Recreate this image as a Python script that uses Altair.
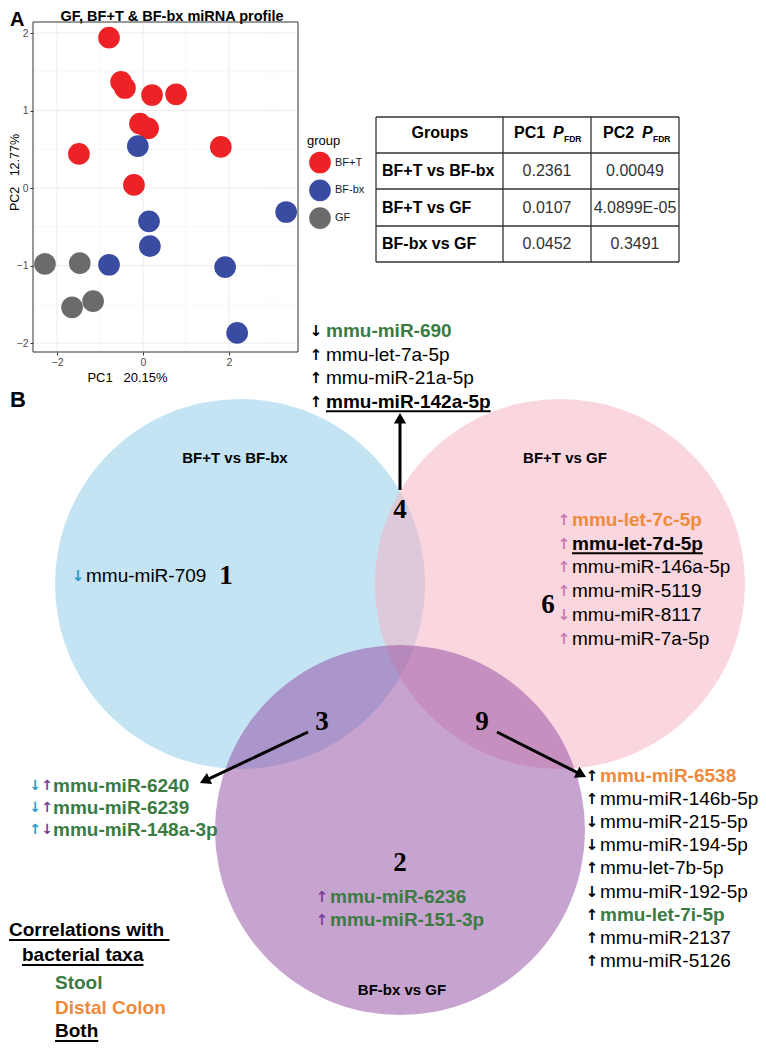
import math
import altair as alt
import pandas as pd

W, H = 750, 1036
PAGE = 8
SANS = "Liberation Sans"
SERIF = "Liberation Serif"
ARROWF = "DejaVu Sans"
NB = "\u00a0"

# ---------------- Panel A : PCA scores ----------------
groups = ["BF+T", "BF-bx", "GF"]
group_colors = ["#EC2227", "#3A4CA1", "#6B6B6B"]
bft_pc1 = [-0.79, -0.51, -0.42, 0.21, 0.77, -0.07, 0.12, -1.49, 1.81, -0.21]
bft_pc2 = [1.94, 1.37, 1.29, 1.20, 1.21, 0.83, 0.77, 0.44, 0.53, 0.04]
bfbx_pc1 = [-0.12, 0.14, 0.16, -0.79, 1.91, 3.33, 2.19]
bfbx_pc2 = [0.54, -0.43, -0.75, -0.99, -1.02, -0.31, -1.87]
gf_pc1 = [-2.28, -1.47, -1.65, -1.16]
gf_pc2 = [-0.98, -0.97, -1.54, -1.46]
pc1_ticks = [-2, 0, 2]
pc2_ticks = [-2, -1, 0, 1, 2]
pc1_title = "PC1" + NB * 3 + "20.15%"
pc2_title = "PC2" + NB * 3 + "12.77%"
panel_a_title = "GF, BF+T & BF-bx miRNA profile"

# ---------------- Panel A : table ----------------
table_groups = ["BF+T vs BF-bx", "BF+T vs GF", "BF-bx vs GF"]
table_pc1 = ["0.2361", "0.0107", "0.0452"]
table_pc2 = ["0.00049", "4.0899E-05", "0.3491"]

# ---------------- Panel B : Venn ----------------
venn_sets = ["BF+T vs BF-bx", "BF+T vs GF", "BF-bx vs GF"]
# fill colours drawn at 50 % opacity (blue, pink, purple)
venn_fills = ["#89C9E9", "#F5ADBD", "#8F479F"]
region_labels = ["1", "4", "6", "3", "9", "2"]

r1_dir = ["↓"]
r1_mir = ["mmu-miR-709"]
r1_corr = ["none"]

r4_dir = ["↓", "↑", "↑", "↑"]
r4_mir = ["mmu-miR-690", "mmu-let-7a-5p", "mmu-miR-21a-5p", "mmu-miR-142a-5p"]
r4_corr = ["stool", "none", "none", "both"]

r6_dir = ["↑", "↑", "↑", "↑", "↓", "↑"]
r6_mir = ["mmu-let-7c-5p", "mmu-let-7d-5p", "mmu-miR-146a-5p", "mmu-miR-5119",
          "mmu-miR-8117", "mmu-miR-7a-5p"]
r6_corr = ["colon", "both", "none", "none", "none", "none"]

r3_dir = ["↓↑", "↓↑", "↑↓"]
r3_mir = ["mmu-miR-6240", "mmu-miR-6239", "mmu-miR-148a-3p"]
r3_corr = ["stool", "stool", "stool"]

r9_dir = ["↑", "↑", "↓", "↓", "↑", "↓", "↑", "↑", "↑"]
r9_mir = ["mmu-miR-6538", "mmu-miR-146b-5p", "mmu-miR-215-5p", "mmu-miR-194-5p",
          "mmu-let-7b-5p", "mmu-miR-192-5p", "mmu-let-7i-5p", "mmu-miR-2137", "mmu-miR-5126"]
r9_corr = ["colon", "none", "none", "none", "none", "none", "stool", "none", "none"]

r2_dir = ["↑", "↑"]
r2_mir = ["mmu-miR-6236", "mmu-miR-151-3p"]
r2_corr = ["stool", "stool"]

key_title = ["Correlations with ", "bacterial taxa"]
key_items = ["Stool", "Distal Colon", "Both"]
key_corr = ["stool", "colon", "both"]

# ---------------- styles ----------------
GREEN = "#3A7B43"
ORANGE = "#EF8A3A"
CYAN = "#2A9BC8"
PINK = "#C97DB8"
PURPLE = "#7B3E99"
BLACK = "#000000"
STYLE = {"none": (BLACK, "normal", False), "stool": (GREEN, "bold", False),
         "colon": (ORANGE, "bold", False), "both": (BLACK, "bold", True)}

BOLD_W = {"a": 556, "b": 611, "c": 556, "d": 611, "e": 556, "f": 333, "g": 611, "h": 611,
          "i": 278, "l": 278, "m": 889, "n": 611, "o": 611, "p": 611, "r": 389, "s": 556,
          "t": 333, "u": 611, "w": 778, "x": 556, " ": 278, "-": 333, "B": 722, "C": 722,
          "R": 722, "D": 722, "S": 667}


def text_width(s, size):
    return sum(BOLD_W.get(c, 556) for c in s) * size / 1000.0


# ---------------- layout (page pixels) ----------------
pc1_domain = [-2.558, 3.605]
pc2_domain = [-2.116, 2.142]
scat_x_px = [33, 298]
scat_y_px = [352, 22]

venn_cx = [240, 560, 400]
venn_cy = [584, 584, 830]
venn_r = [185, 185, 185]

texts = []
rules = []


def add(x, y, text, color=BLACK, size=19, weight="normal", style="normal",
        align="left", font=SANS):
    texts.append(dict(x=x, y=y, text=text, color=color, size=size, weight=weight,
                      style=style, align=align, font=font))


def rule(x1, y1, x2, y2, color=BLACK, sw=2.0):
    rules.append(dict(x=x1, y=y1, x2=x2, y2=y2, color=color, sw=sw))


def add_list(dirs, mirs, corrs, arrow_x, arrow_cols, text_x, y0, dy, asize=15):
    for k, (d, m, c) in enumerate(zip(dirs, mirs, corrs)):
        y = y0 + k * dy
        for j, ch in enumerate(d):
            add(arrow_x[j], y, ch, color=arrow_cols[j], size=asize, weight="bold",
                align="center", font=ARROWF)
        col, wt, ul = STYLE[c]
        add(text_x, y, m, color=col, size=19, weight=wt)
        if ul:
            rule(text_x, y + 9.5, text_x + text_width(m, 19), y + 9.5, BLACK, 2)


# panel letters & title
add(10, 20, "A", size=20, weight="bold")
add(172, 17, panel_a_title, size=14.5, weight="bold", align="center")
add(10, 400, "B", size=22, weight="bold")

# table
tab_cols = [376, 503, 591, 679]
tab_rows = [117, 153, 189, 226, 262]
for xv in tab_cols:
    rule(xv, tab_rows[0], xv, tab_rows[-1], "#333333", 1.3)
for yv in tab_rows:
    rule(tab_cols[0], yv, tab_cols[-1], yv, "#333333", 1.3)
add(440, 133, "Groups", size=16, weight="bold", align="center")
add(514, 133, "PC1", size=16, weight="bold")
add(553, 133, "P", size=16, weight="bold", style="italic")
add(564, 139, "FDR", size=8.5, weight="bold")
add(603, 133, "PC2", size=16, weight="bold")
add(642, 133, "P", size=16, weight="bold", style="italic")
add(653, 139, "FDR", size=8.5, weight="bold")
for i, g in enumerate(table_groups):
    yc = (tab_rows[i + 1] + tab_rows[i + 2]) / 2
    add(382, yc, g, size=16, weight="bold")
    add(547, yc, table_pc1[i], color="#333333", size=16, align="center")
    add(635, yc, table_pc2[i], color="#333333", size=16, align="center")

# venn labels
add(235, 458, venn_sets[0], size=15, weight="bold", align="center")
add(565, 458, venn_sets[1], size=15, weight="bold", align="center")
add(402, 990, venn_sets[2], size=15, weight="bold", align="center")
region_xy = [(226, 576), (400, 510), (548, 605), (322, 722), (482, 722), (400, 863)]
for lab, (xx, yy) in zip(region_labels, region_xy):
    add(xx, yy, lab, size=27, weight="bold", align="center", font=SERIF)

add_list(r1_dir, r1_mir, r1_corr, [78], [CYAN], 86, 576, 0)
add_list(r4_dir, r4_mir, r4_corr, [316], [BLACK], 326, 331, 23.6)
add_list(r6_dir, r6_mir, r6_corr, [564], [PINK], 572, 520, 23.7)
add_list(r3_dir, r3_mir, r3_corr, [35, 47], [CYAN, PURPLE], 53, 786, 22, asize=14)
add_list(r9_dir, r9_mir, r9_corr, [592], [BLACK], 600, 776, 23.1)
add_list(r2_dir, r2_mir, r2_corr, [322], [PURPLE], 330, 897, 23)

# key
add(9, 930, key_title[0].strip(), size=19, weight="bold")
rule(9, 940, 9 + text_width(key_title[0], 19), 940, BLACK, 2)
add(22, 955, key_title[1], size=19, weight="bold")
rule(22, 965, 22 + text_width(key_title[1], 19), 965, BLACK, 2)
for k, (t, c) in enumerate(zip(key_items, key_corr)):
    col, wt, ul = STYLE[c]
    yy = [983, 1008, 1031][k]
    add(55, yy, t, color=col, size=19, weight="bold")
    if ul:
        rule(55, yy + 10, 55 + text_width(t, 19), yy + 10, BLACK, 2)

# arrows between regions and lists
arrow_from = [(400, 490), (308, 732), (497, 732)]
arrow_to = [(400, 413), (200, 783), (586, 777)]
heads = []
for (x1, y1), (x2, y2) in zip(arrow_from, arrow_to):
    L = math.hypot(x2 - x1, y2 - y1)
    ux, uy = (x2 - x1) / L, (y2 - y1) / L
    rule(x1, y1, x2 - ux * 8, y2 - uy * 8, BLACK, 3)
    heads.append(dict(x=x2 - ux * 5.2, y=y2 - uy * 5.2,
                      ang=math.degrees(math.atan2(ux, -uy)) % 360))

# ---------------- scales ----------------
PX = alt.Scale(domain=[PAGE, PAGE + W], range=[0, W], nice=False, zero=False)
PY = alt.Scale(domain=[PAGE, PAGE + H], range=[0, H], nice=False, zero=False)
SX = alt.Scale(domain=pc1_domain, range=[scat_x_px[0] - PAGE, scat_x_px[1] - PAGE],
               nice=False, zero=False)
SY = alt.Scale(domain=pc2_domain, range=[scat_y_px[0] - PAGE, scat_y_px[1] - PAGE],
               nice=False, zero=False)

layers = []

# venn circles (vega circle symbol: size = diameter^2)
circ = pd.DataFrame(dict(x=venn_cx, y=venn_cy, fill=venn_fills,
                         area=[(2 * r) ** 2 for r in venn_r], name=venn_sets))
layers.append(alt.Chart(circ).mark_circle(opacity=0.5).encode(
    x=alt.X("x:Q", scale=PX, axis=None),
    y=alt.Y("y:Q", scale=PY, axis=None),
    size=alt.Size("area:Q", scale=None),
    color=alt.Color("fill:N", scale=None)))


# scatter grid
def grid_v(vals, color, sw):
    df = pd.DataFrame(dict(v=vals, lo=[pc2_domain[0]] * len(vals), hi=[pc2_domain[1]] * len(vals)))
    return alt.Chart(df).mark_rule(color=color, strokeWidth=sw).encode(
        x=alt.X("v:Q", scale=SX, axis=None),
        y=alt.Y("lo:Q", scale=SY, axis=None), y2="hi:Q")


def grid_h(vals, color, sw):
    df = pd.DataFrame(dict(v=vals, lo=[pc1_domain[0]] * len(vals), hi=[pc1_domain[1]] * len(vals)))
    return alt.Chart(df).mark_rule(color=color, strokeWidth=sw).encode(
        y=alt.Y("v:Q", scale=SY, axis=None),
        x=alt.X("lo:Q", scale=SX, axis=None), x2="hi:Q")


layers.append(grid_v([-1, 1, 3], "#F3F3F3", 0.6))
layers.append(grid_h([-1.5, -0.5, 0.5, 1.5], "#F3F3F3", 0.6))
layers.append(grid_v([-2, 0, 2], "#EBEBEB", 1.0))
layers.append(grid_h([-2, -1, 0, 1, 2], "#EBEBEB", 1.0))

frame = pd.DataFrame(dict(a=[pc1_domain[0]], b=[pc1_domain[1]], c=[pc2_domain[0]], d=[pc2_domain[1]]))
layers.append(alt.Chart(frame).mark_rect(filled=False, color="#333333", strokeWidth=1).encode(
    x=alt.X("a:Q", scale=SX, axis=None), x2="b:Q",
    y=alt.Y("c:Q", scale=SY, axis=None), y2="d:Q"))

pts = pd.DataFrame(dict(
    PC1=bft_pc1 + bfbx_pc1 + gf_pc1,
    PC2=bft_pc2 + bfbx_pc2 + gf_pc2,
    group=["BF+T"] * len(bft_pc1) + ["BF-bx"] * len(bfbx_pc1) + ["GF"] * len(gf_pc1)))

x_axis = alt.Axis(orient="bottom", offset=(scat_y_px[0] - PAGE) - H, values=pc1_ticks,
                  grid=False, domain=False, tickColor="#333333", tickSize=3, tickWidth=1,
                  labelColor="#4D4D4D", labelFontSize=10.5, labelFont=SANS, labelPadding=2,
                  title=pc1_title, titleFont=SANS, titleFontSize=13, titleFontWeight="normal",
                  titleColor=BLACK, titleX=119, titleY=25, titleBaseline="middle")
y_axis = alt.Axis(orient="left", offset=-(scat_x_px[0] - PAGE), values=pc2_ticks,
                  grid=False, domain=False, tickColor="#333333", tickSize=3, tickWidth=1,
                  labelColor="#4D4D4D", labelFontSize=10.5, labelFont=SANS, labelPadding=2,
                  title=pc2_title, titleFont=SANS, titleFontSize=12.5, titleFontWeight="normal",
                  titleColor=BLACK, titleX=-19, titleY=164, titleBaseline="middle")
legend = alt.Legend(orient="none", legendX=299, legendY=127, title="group",
                    titleFont=SANS, titleFontSize=13, titleFontWeight="normal", titleColor=BLACK,
                    titlePadding=3.5, labelFont=SANS, labelFontSize=11, labelColor="#1A1A1A",
                    symbolSize=470, symbolType="circle", symbolOffset=2, rowPadding=5.8,
                    padding=0, labelOffset=4, symbolStrokeWidth=0)
layers.append(alt.Chart(pts).mark_circle(opacity=1, size=470).encode(
    x=alt.X("PC1:Q", scale=SX, axis=x_axis),
    y=alt.Y("PC2:Q", scale=SY, axis=y_axis),
    color=alt.Color("group:N", scale=alt.Scale(domain=groups, range=group_colors), legend=legend)))

# rules (table, underlines, arrow shafts)
rdf = pd.DataFrame(rules)
layers.append(alt.Chart(rdf).mark_rule(strokeCap="butt").encode(
    x=alt.X("x:Q", scale=PX, axis=None), x2="x2:Q",
    y=alt.Y("y:Q", scale=PY, axis=None), y2="y2:Q",
    color=alt.Color("color:N", scale=None),
    strokeWidth=alt.StrokeWidth("sw:Q", scale=None)))

hdf = pd.DataFrame(heads)
layers.append(alt.Chart(hdf).mark_point(shape="triangle-up", filled=True, opacity=1,
                                         size=150, color=BLACK).encode(
    x=alt.X("x:Q", scale=PX, axis=None),
    y=alt.Y("y:Q", scale=PY, axis=None),
    angle=alt.Angle("ang:Q", scale=None)))

# text layers
tdf = pd.DataFrame(texts)
for (font, weight, style, align), sub in tdf.groupby(["font", "weight", "style", "align"]):
    layers.append(alt.Chart(sub.reset_index(drop=True)).mark_text(
        font=font, fontWeight=weight, fontStyle=style, align=align, baseline="middle").encode(
        x=alt.X("x:Q", scale=PX, axis=None),
        y=alt.Y("y:Q", scale=PY, axis=None),
        text=alt.Text("text:N"),
        color=alt.Color("color:N", scale=None),
        size=alt.Size("size:Q", scale=None)))

chart = alt.layer(*layers).resolve_scale(
    x="independent", y="independent", color="independent"
).properties(
    width=W, height=H, padding=0, background="white",
    autosize=alt.AutoSizeParams(type="none"),
).configure_view(stroke=None)

chart.save("out.html", embed_options={"renderer": "svg", "actions": False})
